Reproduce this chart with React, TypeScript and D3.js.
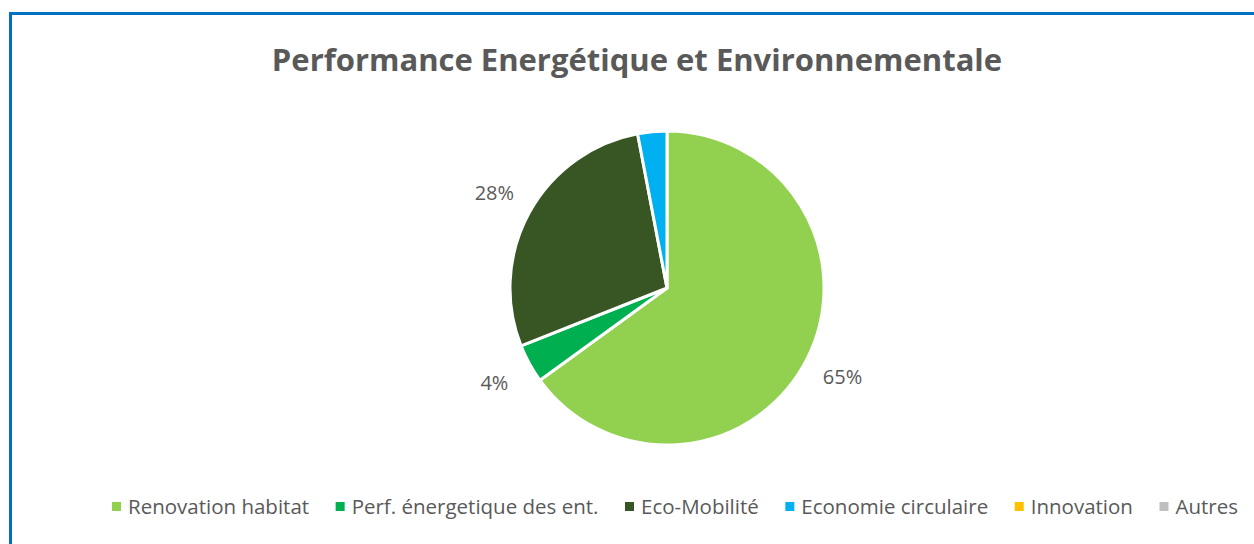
import React, { useEffect, useRef } from "react";
import * as d3 from "d3";

const categories = ["Renovation habitat", "Perf. énergetique des ent.", "Eco-Mobilité", "Economie circulaire", "Innovation", "Autres"];
const values = [65, 4, 28, 3, 0, 0];
const labels = ["65%", "4%", "28%", "", "", ""];
const colors = ["#92D050", "#00B050", "#375623", "#00B0F0", "#FFC000", "#BFBFBF"];
const title = "Performance Energétique et Environnementale";

const W = 1254, H = 544;

export default function App() {
  const ref = useRef<SVGSVGElement>(null);
  useEffect(() => {
    const svg = d3.select(ref.current);
    svg.selectAll("*").remove();
    svg.append("rect").attr("x", 0).attr("y", 0).attr("width", W).attr("height", H).attr("fill", "#fff");
    svg.append("path").attr("d", `M10.5,${H + 5} L10.5,13.5 L${W + 5},13.5`).attr("fill", "none").attr("stroke", "#0070C0").attr("stroke-width", 3);

    const font = "'Open Sans', sans-serif";
    svg.append("text").attr("x", 637).attr("y", 71).attr("text-anchor", "middle")
      .attr("font-family", font).attr("font-weight", "bold").attr("font-size", 31).attr("fill", "#595959").text(title);

    const cx = 667, cy = 288, r = 157;
    const pie = d3.pie<number>().sort(null).value(d => d);
    const arcs = pie(values);
    const arc = d3.arc<d3.PieArcDatum<number>>().innerRadius(0).outerRadius(r);
    const g = svg.append("g").attr("transform", `translate(${cx},${cy})`);
    g.selectAll("path").data(arcs.filter(a => a.data > 0)).enter().append("path")
      .attr("d", arc as any).attr("fill", (d) => colors[d.index]).attr("stroke", "#fff").attr("stroke-width", 3).attr("stroke-linejoin", "round");

    const labelArc = d3.arc<d3.PieArcDatum<number>>().innerRadius(r + 40).outerRadius(r + 40);
    arcs.forEach((a, i) => {
      if (!labels[i]) return;
      const [x, y] = labelArc.centroid(a);
      g.append("text").attr("x", x).attr("y", y).attr("text-anchor", "middle").attr("dy", "0.35em")
        .attr("font-family", font).attr("font-size", 20).attr("fill", "#595959").text(labels[i]);
    });

    const lg = svg.append("g");
    const items: { w: number; g: any }[] = [];
    categories.forEach((c, i) => {
      const ig = lg.append("g");
      ig.append("rect").attr("x", 0).attr("y", -12).attr("width", 9).attr("height", 9).attr("fill", colors[i]);
      const t = ig.append("text").attr("x", 16).attr("y", 0).attr("font-family", font).attr("font-size", 20.5).attr("fill", "#595959").text(c);
      const tw = (t.node() as SVGTextElement).getComputedTextLength();
      items.push({ w: 16 + tw, g: ig });
    });
    const natural = items.reduce((s, it) => s + it.w, 0);
    const gap = Math.max(8, (1238 - 112 - natural) / (items.length - 1));
    const total = natural + gap * (items.length - 1);
    let x = 675 - total / 2;
    items.forEach(it => { it.g.attr("transform", `translate(${x},514)`); x += it.w + gap; });
  }, []);
  return <svg ref={ref} width={W} height={H} style={{ display: "block", position: "absolute", left: 0, top: 0 }} />;
}
